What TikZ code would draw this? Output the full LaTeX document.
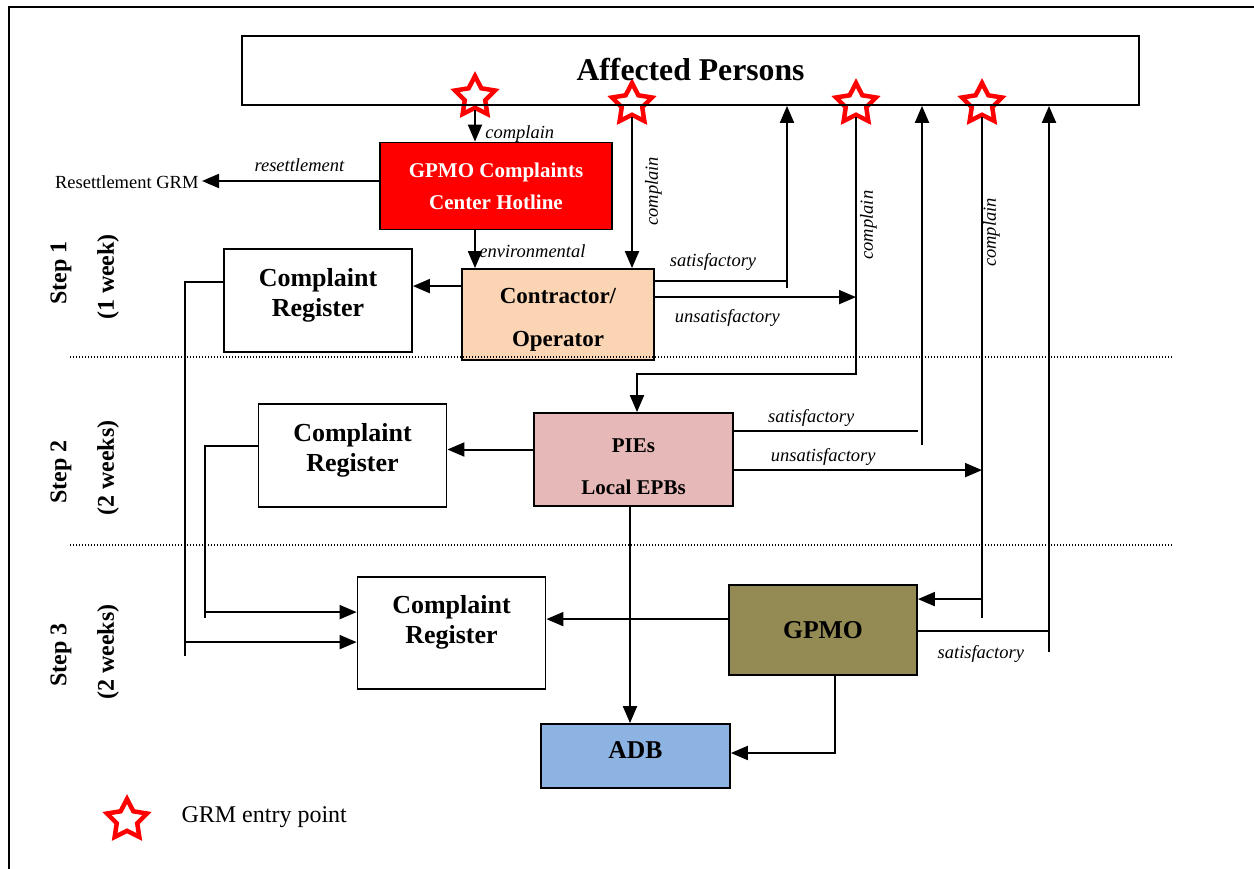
\documentclass[tikz,border=0pt]{standalone}
\usepackage{fontspec}
\setmainfont{Liberation Serif}
\usetikzlibrary{arrows.meta,shapes.geometric}

\definecolor{hotred}{HTML}{FF0000}
\definecolor{peach}{HTML}{FBD4B4}
\definecolor{rosy}{HTML}{E6B8B7}
\definecolor{gpmoolive}{HTML}{948A54}
\definecolor{adbblue}{HTML}{8DB3E2}

\begin{document}
\begin{tikzpicture}[x=1pt,y=-1pt]
\useasboundingbox (0,0) rectangle (1254,869);

\tikzstyle{box}=[draw,line width=1.8pt,inner sep=0pt,align=center]
\tikzstyle{arr}=[line width=2pt,-{Triangle[length=17pt,width=14pt]}]
\tikzstyle{ln}=[line width=2pt]
\tikzstyle{lbl}=[font=\itshape\fontsize{18.5}{22}\selectfont]
\tikzstyle{rot}=[lbl,rotate=90,anchor=north,inner sep=0pt]
\tikzstyle{entry}=[star,star points=5,star point ratio=1.95,minimum size=42pt,inner sep=0pt,draw=red,line width=4.5pt,fill=white]
\tikzstyle{steplbl}=[rotate=90,font=\bfseries\fontsize{24}{28}\selectfont]
\tikzstyle{reg}=[box,minimum width=188pt,text depth=17pt,font=\bfseries\fontsize{26}{30}\selectfont]

% frame
\draw[line width=2pt] (9,869) -- (9,7) -- (1254,7);

% entry points
\node (s1) [entry] at (475,97) {};
\node (s2) [entry] at (632,104) {};
\node (s3) [entry] at (856,104) {};
\node (s4) [entry] at (982,104) {};

% boxes
\node (affected) [box,minimum width=897pt,minimum height=69pt,font=\bfseries\fontsize{31.7}{36}\selectfont] at (690.5,70.5) {\raisebox{3pt}{Affected Persons}};
\node (hotline) [box,fill=hotred,text=white,minimum width=232pt,minimum height=87pt,font=\bfseries\fontsize{21}{32}\selectfont] at (496,186) {GPMO Complaints\\Center Hotline};
\node (resgrm) [anchor=east,font=\fontsize{18.5}{22}\selectfont] at (202,182) {Resettlement GRM};
\node (contractor) [box,fill=peach,minimum width=192pt,minimum height=91pt,text height=69pt,font=\bfseries\fontsize{23}{43}\selectfont] at (558,314.5) {Contractor/\\Operator};
\node (regone) [reg,minimum height=103pt] at (318,300.5) {Complaint\\Register};
\node (pies) [box,fill=rosy,minimum width=199pt,minimum height=93pt,text height=70pt,font=\bfseries\fontsize{21}{42}\selectfont] at (633.5,459.5) {PIEs\\Local EPBs};
\node (regtwo) [reg,minimum height=103pt] at (352.5,455.5) {Complaint\\Register};
\node (gpmo) [box,fill=gpmoolive,minimum width=188pt,minimum height=90pt,font=\bfseries\fontsize{25.7}{30}\selectfont] at (823,630) {GPMO};
\node (regthree) [reg,minimum height=112pt,text depth=28pt] at (451.5,633) {Complaint\\Register};
\node (adb) [box,fill=adbblue,minimum width=189pt,minimum height=64pt,text depth=12pt,font=\bfseries\fontsize{25.6}{30}\selectfont] at (635.5,756) {ADB};

% steps
\node (stepone) [steplbl] at (61,273) {Step 1};
\node (weekone) [steplbl] at (108,277) {(1 week)};
\node (steptwo) [steplbl] at (61,472) {Step 2};
\node (weektwo) [steplbl] at (108,468) {(2 weeks)};
\node (stepthree) [steplbl] at (61,655) {Step 3};
\node (weekthree) [steplbl] at (108,652) {(2 weeks)};
\draw[line width=1.2pt,dash pattern=on 1.3pt off 1.7pt] (70,357) -- (1172,357);
\draw[line width=1.2pt,dash pattern=on 1.3pt off 1.7pt] (70,545) -- (1172,545);

% step 1
\draw[arr] (s1) -- node[lbl,right,pos=.76,xshift=6pt] {complain} (s1 |- hotline.north);
\coordinate (outres) at ([yshift=5pt]hotline.west);
\draw[arr] (outres) -- node[lbl,above,pos=.45,yshift=5pt] {resettlement} (outres -| resgrm.east);
\draw[arr] (hotline.south -| s1) -- node[lbl,right,pos=.54] {environmental} (s1 |- contractor.north);
\draw[arr] (s2) -- node[rot,pos=.49,outer sep=13pt] {complain} (s2 |- contractor.north);
\coordinate (inreg) at ([yshift=-18pt]contractor.north west);
\draw[arr] (inreg) -- (inreg -| regone.east);
\coordinate (satone) at (787,288);
\coordinate (outone) at ([yshift=-13pt]contractor.north east);
\draw[ln] (outone) -- node[lbl,above,pos=.44,yshift=6pt] {satisfactory} (outone -| satone);
\draw[arr] (satone) -- (satone |- affected.south);
\coordinate (outtwo) at ([yshift=-29pt]contractor.north east);
\draw[arr] (outtwo) -- node[lbl,below,pos=.36,yshift=-8pt] {unsatisfactory} (outtwo -| s3);

% step 2
\draw[arr] (s3) -- node[rot,pos=.42,inner sep=3pt] {complain} ++(0,270) -| ([xshift=3.5pt]pies.north);
\coordinate (outthree) at ([yshift=10pt]pies.west);
\draw[arr] (outthree) -- (outthree -| regtwo.east);
\coordinate (sattwo) at (922,445);
\coordinate (outfour) at ([yshift=-19pt]pies.north east);
\draw[ln] (outfour) -- node[lbl,above,pos=.42] {satisfactory} ([xshift=-4pt]outfour -| sattwo);
\draw[arr] (sattwo) -- (sattwo |- affected.south);
\coordinate (outfive) at ([yshift=-58pt]pies.north east);
\draw[arr] (outfive) -- node[lbl,above,pos=.36] {unsatisfactory} (outfive -| s4);

% step 3
\draw[ln] (s4) -- node[rot,pos=.23] {complain} ++(0,514);
\coordinate (infour) at ([yshift=-15pt]gpmo.north east);
\draw[arr] (infour -| s4) -- (infour);
\coordinate (outsix) at ([yshift=-35pt]gpmo.north west);
\draw[arr] (outsix) -- (outsix -| regthree.east);
\coordinate (satthree) at (1049,652);
\coordinate (outseven) at ([yshift=-47pt]gpmo.north east);
\draw[ln] (outseven) -- node[lbl,below,pos=.48,yshift=-10pt] {satisfactory} (outseven -| satthree);
\draw[arr] (satthree) -- (satthree |- affected.south);
\coordinate (downone) at ([xshift=-3.5pt]pies.south);
\draw[arr] (downone) -- (downone |- adb.north);
\coordinate (downtwo) at ([xshift=12pt]gpmo.south);
\draw[arr] (downtwo) |- ([yshift=3pt]adb.east);

% registers on the left
\coordinate (leftone) at (185,656);
\coordinate (lefttwo) at (205,618);
\draw[ln] ([yshift=-34pt]regone.north west) -| (leftone);
\coordinate (inone) at ([yshift=-66pt]regthree.north west);
\draw[arr] (inone -| leftone) -- (inone);
\draw[ln] ([yshift=-43pt]regtwo.north west) -| (lefttwo);
\coordinate (intwo) at ([yshift=-36pt]regthree.north west);
\draw[arr] (intwo -| lefttwo) -- (intwo);

% legend
\node (legstar) [entry] at (127,820) {};
\node (legtext) [anchor=west,font=\fontsize{24}{28}\selectfont] at (178,817) {GRM entry point};
\end{tikzpicture}
\end{document}
